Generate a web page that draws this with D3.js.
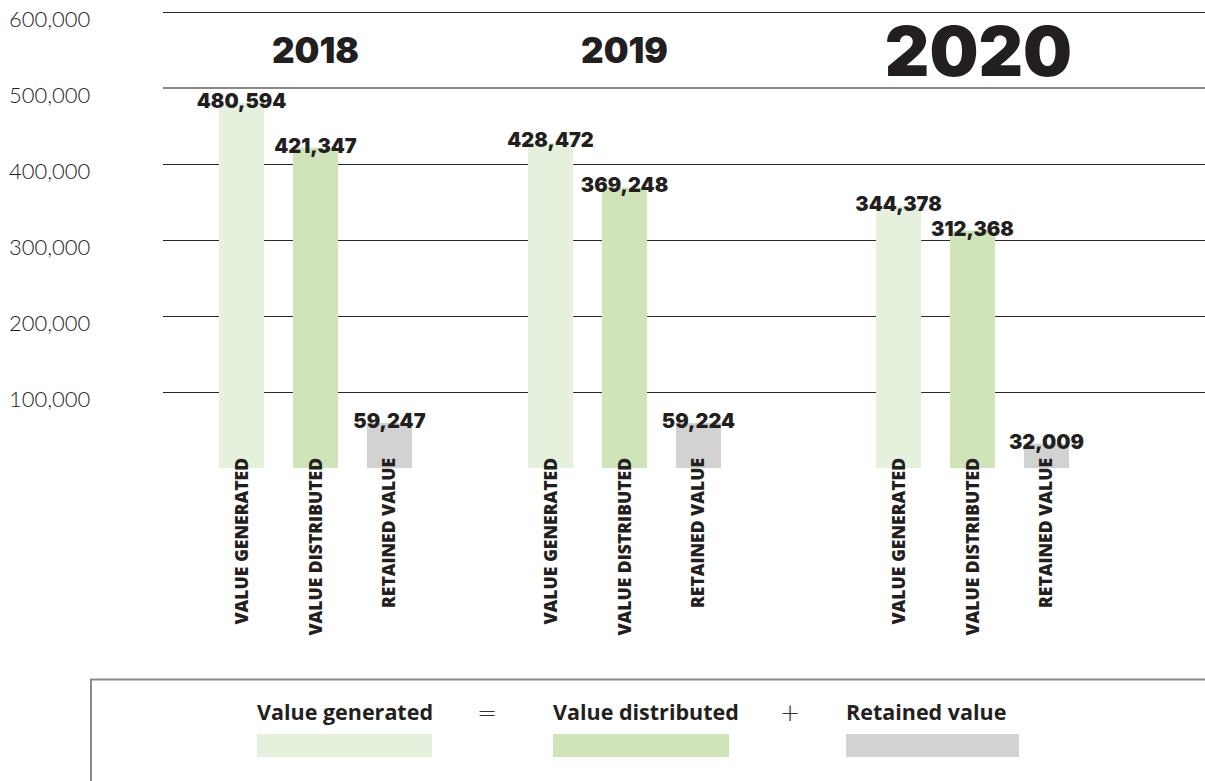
<!DOCTYPE html>
<html>
<head>
<meta charset="utf-8">
<script src="https://cdn.jsdelivr.net/npm/d3@7"></script>
<style>
  html, body { margin: 0; padding: 0; background: #fff; }
  svg { display: block; }
  .tick-label { font-family: Lato, "Noto Sans", sans-serif; font-weight: 300; font-size: 22px; fill: #1e1e1e; }
  .year { font-family: Inter, "Noto Sans", sans-serif; font-weight: 900; fill: #231f20; }
  .val { font-family: Inter, "Noto Sans", sans-serif; font-weight: 900; font-size: 20px; fill: #231f20; }
  .cat { font-family: "Open Sans", "Noto Sans", sans-serif; font-weight: 800; font-size: 17.5px; fill: #231f20; }
  .leg { font-family: "Open Sans", "Noto Sans", sans-serif; font-weight: 700; font-size: 21.5px; fill: #231f20; }
  .op { font-family: "DejaVu Sans", sans-serif; font-weight: 300; font-size: 24px; fill: #333; }
</style>
</head>
<body>
<svg id="chart" width="1205" height="781"></svg>
<script>
const years = ['2018', '2019', '2020'];
const categories = ['VALUE GENERATED', 'VALUE DISTRIBUTED', 'RETAINED VALUE'];
const generated = [480594, 428472, 344378];
const distributed = [421347, 369248, 312368];
const retained = [59247, 59224, 32009];
const yTicks = [100000, 200000, 300000, 400000, 500000, 600000];
const legendLabels = ['Value generated', 'Value distributed', 'Retained value'];
const legendOps = ['=', '+'];

const colors = ['#e5f1dc', '#cfe4b9', '#d2d2d2'];

const svg = d3.select('#chart');

const y = d3.scaleLinear().domain([0, 600000]).range([468, 12]);
const crisp = v => Math.round(v) + 0.5;

// group positions (2020 sits a bit further right, like the original)
const groupStart = { '2018': 219, '2019': 528, '2020': 876 };
const inner = d3.scaleBand().domain(categories).range([0, 193]).paddingInner(0.39).paddingOuter(0);

// gridlines
svg.append('g').selectAll('line')
  .data(yTicks)
  .join('line')
  .attr('x1', 163).attr('x2', 1205)
  .attr('y1', d => d === 500000 ? y(d) : crisp(y(d)))
  .attr('y2', d => d === 500000 ? y(d) : crisp(y(d)))
  .attr('stroke', d => d === 500000 ? '#8a8a8a' : '#2a2a2a')
  .attr('stroke-width', d => d === 500000 ? 2 : 1);

// y tick labels
svg.append('g').selectAll('text')
  .data(yTicks)
  .join('text')
  .attr('class', 'tick-label')
  .attr('x', 9)
  .attr('y', d => y(d) + 15)
  .text(d => d3.format(',')(d));

// year headers
svg.append('g').selectAll('text')
  .data(years)
  .join('text')
  .attr('class', 'year')
  .attr('text-anchor', 'middle')
  .attr('x', (d, i) => groupStart[d] + 193 / 2 + (i === 2 ? 6 : 0))
  .attr('y', (d, i) => i === 2 ? 76 : 63)
  .style('font-size', (d, i) => i === 2 ? '69px' : '35px')
  .text(d => d);

const rows = years.map((yr, i) => [generated[i], distributed[i], retained[i]]
  .map((v, j) => ({ year: yr, cat: categories[j], value: v, idx: j })));

const groups = svg.append('g').selectAll('g')
  .data(rows)
  .join('g')
  .attr('transform', d => `translate(${groupStart[d[0].year]},0)`);

groups.selectAll('rect')
  .data(d => d)
  .join('rect')
  .attr('x', d => inner(d.cat))
  .attr('width', inner.bandwidth())
  .attr('y', d => y(d.value))
  .attr('height', d => y(0) - y(d.value))
  .attr('fill', d => colors[d.idx]);

groups.selectAll('text.val')
  .data(d => d)
  .join('text')
  .attr('class', 'val')
  .attr('text-anchor', 'middle')
  .attr('x', d => inner(d.cat) + inner.bandwidth() / 2)
  .attr('y', d => y(d.value) + 5)
  .text(d => d3.format(',')(d.value));

groups.selectAll('text.cat')
  .data(d => d)
  .join('text')
  .attr('class', 'cat')
  .attr('text-anchor', 'end')
  .attr('transform', d => `translate(${inner(d.cat) + inner.bandwidth() / 2 + 6},458) rotate(-90)`)
  .text(d => d.cat);

// legend box
svg.append('path')
  .attr('d', 'M91,781 V679.5 H1205')
  .attr('fill', 'none')
  .attr('stroke', '#8a8a8a')
  .attr('stroke-width', 2);

const legX = d3.scaleOrdinal().domain(legendLabels).range([257, 553, 846]);
const legW = [175, 176, 173];

const leg = svg.append('g').selectAll('g')
  .data(legendLabels)
  .join('g')
  .attr('transform', d => `translate(${legX(d)},0)`);

leg.append('text')
  .attr('class', 'leg')
  .attr('y', 720)
  .text(d => d);

leg.append('rect')
  .attr('y', 734)
  .attr('height', 23)
  .attr('width', (d, i) => legW[i])
  .attr('fill', (d, i) => colors[i]);

svg.append('g').selectAll('text')
  .data(legendOps)
  .join('text')
  .attr('class', 'op')
  .attr('text-anchor', 'middle')
  .attr('x', (d, i) => [487, 790][i])
  .attr('y', 721)
  .text(d => d);
</script>
</body>
</html>
